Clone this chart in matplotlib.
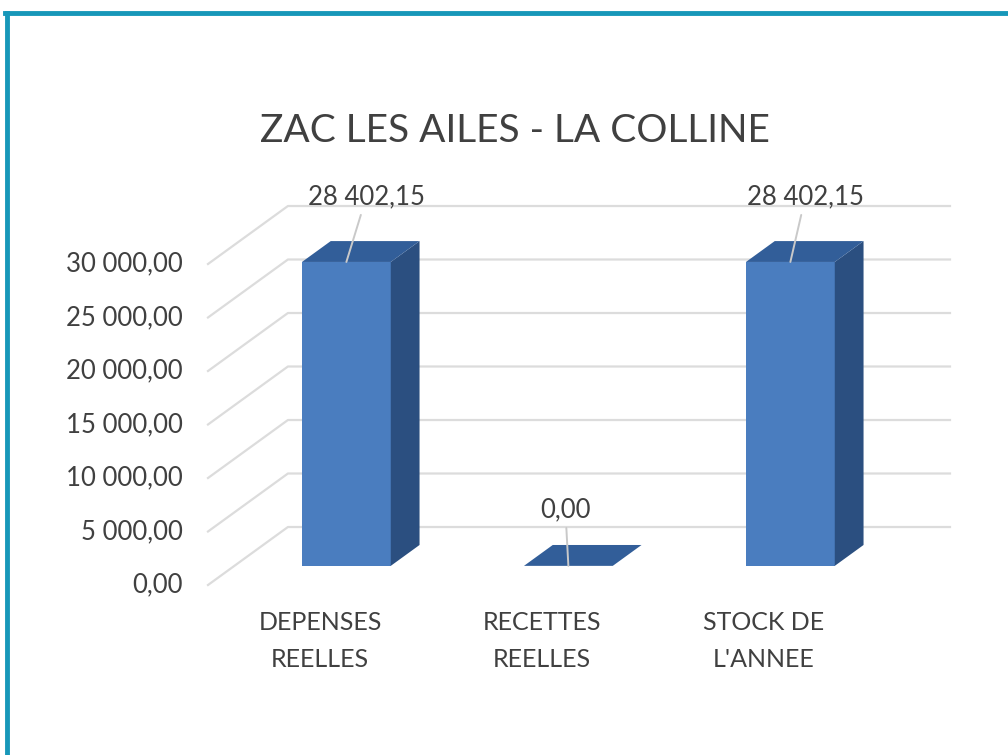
import numpy as np
import matplotlib.pyplot as plt
from matplotlib.patches import Polygon
from matplotlib.lines import Line2D

plt.rcParams['font.family'] = ['Lato', 'DejaVu Sans']

title = "ZAC LES AILES - LA COLLINE"
categories = ["DEPENSES\nREELLES", "RECETTES\nREELLES", "STOCK DE\nL'ANNEE"]
values = [28402.15, 0.00, 28402.15]
value_labels = ["28 402,15", "0,00", "28 402,15"]
ticks = [0, 5000, 10000, 15000, 20000, 25000, 30000]
tick_labels = ["0,00", "5 000,00", "10 000,00", "15 000,00", "20 000,00",
               "25 000,00", "30 000,00"]

# oblique "3D" look: depth shift of the whole wall in data units
DX, DY = 0.36, 5420.0
Z_FRONT, Z_BACK = 0.33, 0.69
WIDTH = 0.40


def proj(x, v, z):
    return (x + z * DX, v + z * DY)


fig = plt.figure(figsize=(10.08, 7.55), dpi=100)
ax = fig.add_axes([0, 0, 1, 1])
ax.set_xlim(-320 / 222, (1008 - 320) / 222)
ax.set_ylim(-(755 - 585) / 0.0107, 585 / 0.0107)
ax.axis("off")

# frame
ax.add_line(Line2D([0.007, 0.007], [0, 0.983], transform=ax.transAxes,
                   color="#1797b9", lw=3.5))
ax.add_line(Line2D([0.005, 1.0], [0.983, 0.983], transform=ax.transAxes,
                   color="#1797b9", lw=3.5))

# gridlines: side wall diagonal + back wall horizontal
x_wall = -0.5045
x_right = (950 - 320) / 222
grid_c = "#dcdcdc"
for t, lab in zip(ticks, tick_labels):
    p0 = proj(x_wall, t, 0)
    p1 = proj(x_wall, t, 1)
    ax.plot([p0[0], p1[0], x_right], [p0[1], p1[1], p1[1]],
            color=grid_c, lw=1.6, zorder=1)
    ax.text((183 - 320) / 222, t, lab, ha="right", va="center",
            fontsize=18.5, color="#404040")

front_c, top_c, side_c = "#4a7dbf", "#325e99", "#2b4f80"
offsets = [(20, 65), (-3, 56), (15, 65)]
for i, v in enumerate(values):
    xl, xr = i - WIDTH / 2, i + WIDTH / 2
    if v > 0:
        front = [proj(xl, 0, Z_FRONT), proj(xr, 0, Z_FRONT),
                 proj(xr, v, Z_FRONT), proj(xl, v, Z_FRONT)]
        side = [proj(xr, 0, Z_FRONT), proj(xr, 0, Z_BACK),
                proj(xr, v, Z_BACK), proj(xr, v, Z_FRONT)]
        ax.add_patch(Polygon(front, closed=True, fc=front_c, ec="none", zorder=3))
        ax.add_patch(Polygon(side, closed=True, fc=side_c, ec="none", zorder=3))
    top = [proj(xl, v, Z_FRONT), proj(xr, v, Z_FRONT),
           proj(xr, v, Z_BACK), proj(xl, v, Z_BACK)]
    ax.add_patch(Polygon(top, closed=True, fc=top_c, ec="none", zorder=3))

    anchor = proj(i, v, Z_FRONT)
    ax.annotate(value_labels[i], xy=anchor, xytext=offsets[i],
                textcoords="offset pixels", ha="center", va="center",
                fontsize=18.5, color="#404040", zorder=5,
                arrowprops=dict(arrowstyle="-", color="#c9c9c9", lw=1.4,
                                shrinkA=2, shrinkB=0))
    ax.text(i, -5230, categories[i], ha="center", va="center",
            fontsize=18, color="#404040", linespacing=1.7)

ax.text((515 - 320) / 222, (585 - 131) / 0.0107, title, ha="center",
        va="center", fontsize=28, color="#404040")

fig.savefig("out.png", dpi=100)
